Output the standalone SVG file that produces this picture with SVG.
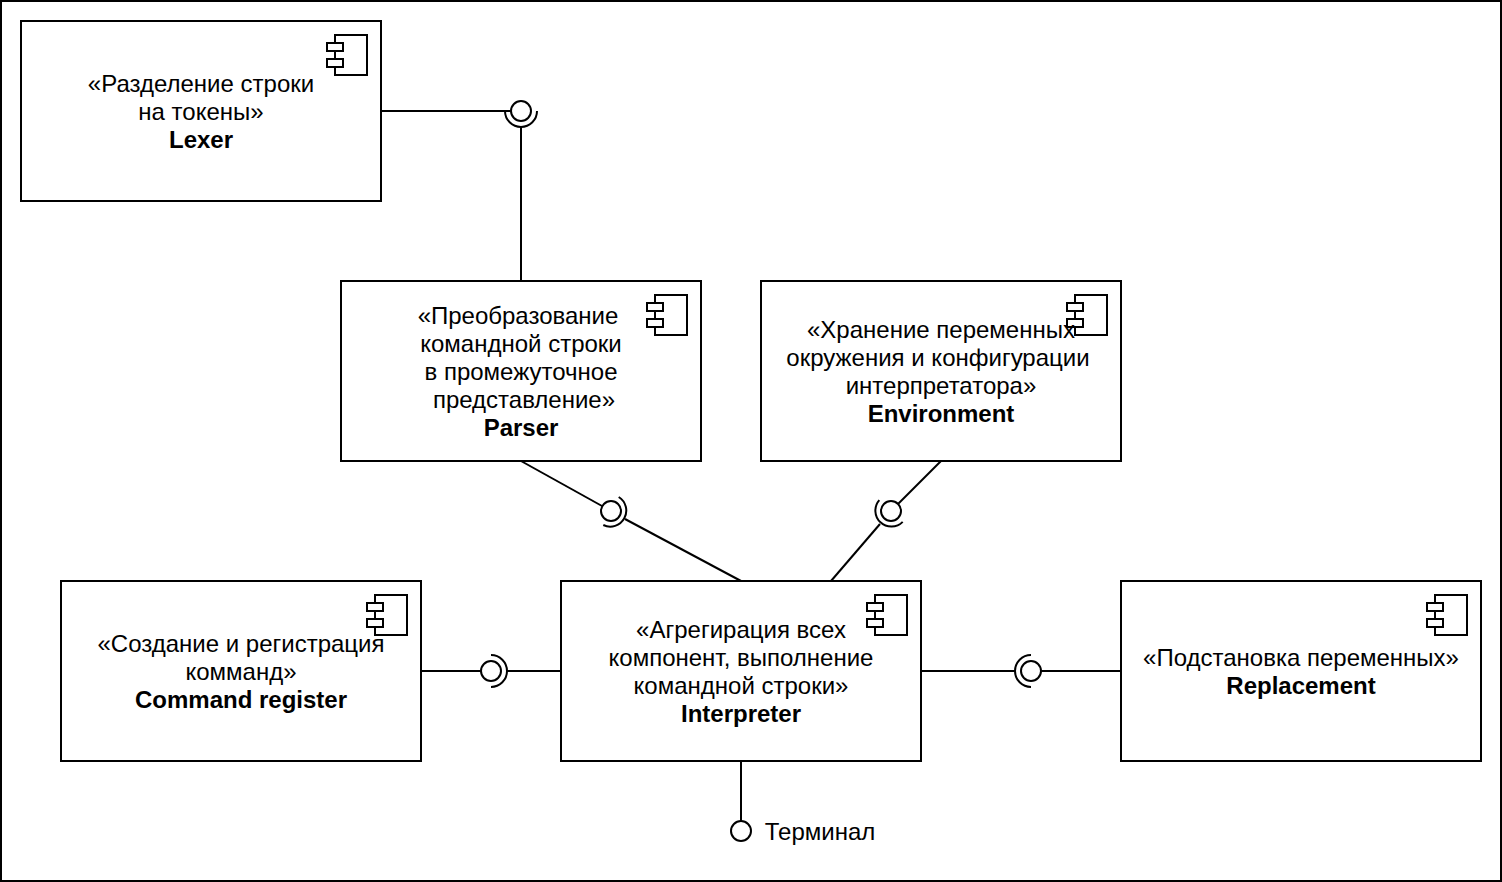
<svg xmlns="http://www.w3.org/2000/svg" width="1502" height="882" viewBox="0 0 1502 882">
<style>
.s{fill:none;stroke:#000;stroke-width:2}
.b{fill:#fff;stroke:#000;stroke-width:2}
text{font-family:"Liberation Sans",Arial,sans-serif;font-size:24px;fill:#000;text-anchor:middle}
.n{font-weight:bold}
</style>
<defs>
<g id="ico">
<path class="b" d="M-46 14H-14V54H-46Z"/>
<path class="b" d="M-54 22H-38V30H-54ZM-54 38H-38V46H-54Z"/>
</g>
</defs>
<rect x="1" y="1" width="1500" height="880" class="s"/>
<g id="connectors" class="s">
<path d="M381 111H511"/>
<path d="M521 127V281"/>
<path d="M505 111A16 16 0 0 0 537 111"/>
<circle cx="521" cy="111" r="10"/>
<path d="M521 461L602 506"/>
<path d="M625 519L741 581"/>
<path d="M618.700 497A16 16 0 0 1 603.300 525"/>
<circle cx="611" cy="511" r="10"/>
<path d="M941 461L898 504"/>
<path d="M880 524L831 581"/>
<path d="M879.300 500.100A16 16 0 0 0 902.700 521.900"/>
<circle cx="891" cy="511" r="10"/>
<path d="M421 671H481"/>
<path d="M507 671H561"/>
<path d="M491 655A16 16 0 0 1 491 687"/>
<circle cx="491" cy="671" r="10"/>
<path d="M921 671H1015"/>
<path d="M1041 671H1121"/>
<path d="M1031 655A16 16 0 0 0 1031 687"/>
<circle cx="1031" cy="671" r="10"/>
<path d="M741 761V821"/>
<circle cx="741" cy="831" r="10"/>
</g>
<g id="lexer">
<rect x="21" y="21" width="360" height="180" class="b"/>
<use href="#ico" x="381" y="21"/>
<text x="201" y="92">«Разделение строки</text>
<text x="201" y="120">на токены»</text>
<text x="201" y="148" class="n">Lexer</text>
</g>
<g id="parser">
<rect x="341" y="281" width="360" height="180" class="b"/>
<use href="#ico" x="701" y="281"/>
<text x="518" y="324">«Преобразование</text>
<text x="521" y="352">командной строки</text>
<text x="521" y="380">в промежуточное</text>
<text x="524" y="408">представление»</text>
<text x="521" y="436" class="n">Parser</text>
</g>
<g id="environment">
<rect x="761" y="281" width="360" height="180" class="b"/>
<use href="#ico" x="1121" y="281"/>
<text x="941" y="338">«Хранение переменных</text>
<text x="938" y="366">окружения и конфигурации</text>
<text x="941" y="394">интерпретатора»</text>
<text x="941" y="422" class="n">Environment</text>
</g>
<g id="command-register">
<rect x="61" y="581" width="360" height="180" class="b"/>
<use href="#ico" x="421" y="581"/>
<text x="241" y="652">«Создание и регистрация</text>
<text x="241" y="680">комманд»</text>
<text x="241" y="708" class="n">Command register</text>
</g>
<g id="interpreter">
<rect x="561" y="581" width="360" height="180" class="b"/>
<use href="#ico" x="921" y="581"/>
<text x="741" y="638">«Агрегирация всех</text>
<text x="741" y="666">компонент, выполнение</text>
<text x="741" y="694">командной строки»</text>
<text x="741" y="722" class="n">Interpreter</text>
</g>
<g id="replacement">
<rect x="1121" y="581" width="360" height="180" class="b"/>
<use href="#ico" x="1481" y="581"/>
<text x="1301" y="666">«Подстановка переменных»</text>
<text x="1301" y="694" class="n">Replacement</text>
</g>
<g id="terminal">
<text x="820" y="840">Терминал</text>
</g>
</svg>
